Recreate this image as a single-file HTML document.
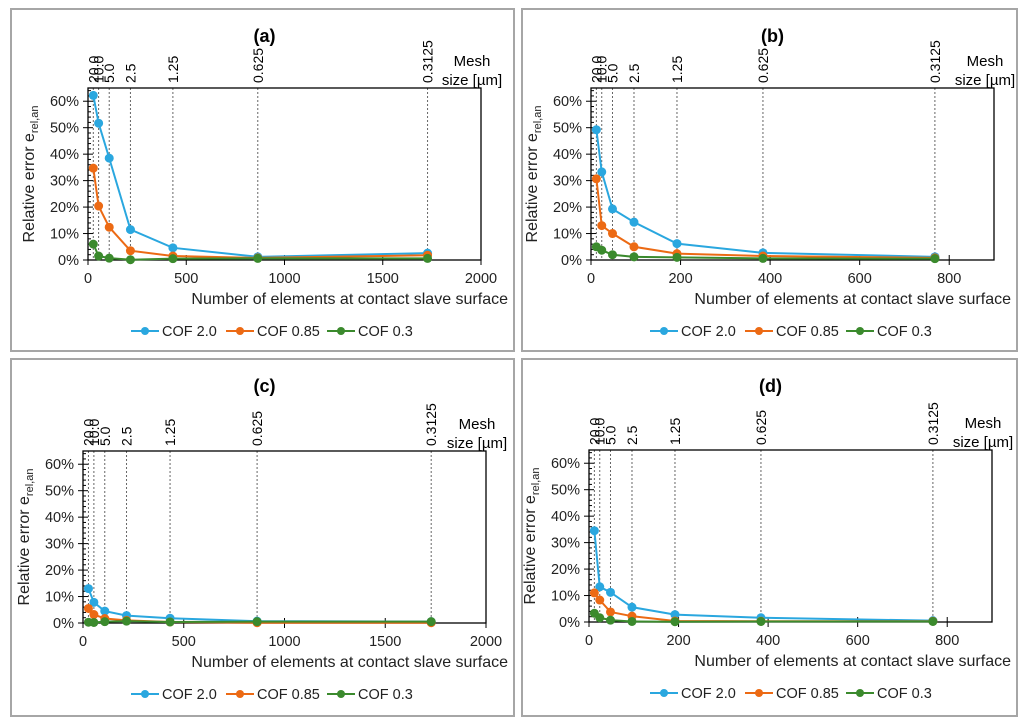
<!DOCTYPE html>
<html><head><meta charset="utf-8"><style>
body{margin:0;background:#fff;}
svg{display:block;font-family:"Liberation Sans","DejaVu Sans",sans-serif;}
</style></head><body>
<svg id="fig" width="1024" height="728" viewBox="0 0 1024 728" xmlns="http://www.w3.org/2000/svg"></svg>
<script>
const meshLabels = ["20.0","10.0","5.0","2.5","1.25","0.625","0.3125"];
const yTicks = [0,10,20,30,40,50,60];
const seriesNames = ["COF 2.0","COF 0.85","COF 0.3"];
const xA = [27,54,108,216,432,864,1728];
const xB = [12,24,48,96,192,384,768];
const xTicksA = [0,500,1000,1500,2000];
const xTicksB = [0,200,400,600,800];
const aBlue = [62.2,51.7,38.5,11.5,4.6,1.2,2.6];
const aOrange = [34.7,20.4,12.4,3.5,1.5,0.8,1.8];
const aGreen = [6,1.5,0.7,0.1,0.5,0.6,0.6];
const bBlue = [49.2,33.3,19.3,14.3,6.2,2.7,1.2];
const bOrange = [30.7,13,10,5,2.4,1.5,0.8];
const bGreen = [5,3.7,2,1.2,1,0.6,0.5];
const cBlue = [13,7.8,4.5,2.8,1.8,0.7,0.5];
const cOrange = [5.5,3.2,1.7,1.0,0.4,0.1,0.1];
const cGreen = [0.3,0.2,0.5,0.7,0.4,0.5,0.5];
const dBlue = [34.5,13.3,11.2,5.6,2.8,1.6,0.5];
const dOrange = [11,8.3,3.8,2.2,0.4,0.3,0.3];
const dGreen = [3.3,1.6,0.7,0.2,0.1,0.2,0.2];

const colors = ["#2aa7df","#ec6a14","#3b8a2d"];
const NS = "http://www.w3.org/2000/svg";
const svg = document.getElementById("fig");
function mk(tag, attrs, parent, text){
  const e = document.createElementNS(NS, tag);
  for (const k in attrs) e.setAttribute(k, attrs[k]);
  if (text !== undefined) e.textContent = text;
  (parent||svg).appendChild(e);
  return e;
}
function panel(id, bx, by, px0, px1, py0, xmax, xs, xTicks, data){
  const g = mk("g", {});
  
  
  const right = (id=='b'||id=='d');
  const frame = mk("rect", {x:bx, y:by, width:503-(right?8:0), height:(id=='a'||id=='b')?342:357, fill:"none", stroke:"#a6a6a6", "stroke-width":2}, g);
  
  
  const ymax = 65, yTop = py0 - 172;
  const sx = v => px0 + (v / xmax) * (px1 - px0);
  const sy = v => py0 - (v / ymax) * (py0 - yTop);
  const t = mk("text", {x:(px0+px1)/2 - 20, y:by+33, "font-size":18, "font-weight":"bold", "text-anchor":"middle"}, g, "(" + id + ")");
  
  
  xs.forEach((v,i)=>{
    const l = mk("line", {x1:sx(v), x2:sx(v), y1:yTop, y2:py0, stroke:"#666", "stroke-width":1, "stroke-dasharray":"2,2"}, g);
    
    
    const tx = mk("text", {x:0, y:0, "font-size":14, transform:`translate(${sx(v)+5},${yTop-5}) rotate(-90)`}, g, meshLabels[i]);
    
    
  });
  const m1 = mk("text", {x:px1-9, y:yTop-22, "font-size":15, "text-anchor":"middle"}, g, "Mesh");
  
  
  const m2 = mk("text", {x:px1-9, y:yTop-3, "font-size":15, "text-anchor":"middle"}, g, "size [µm]");
  
  
  const pa = mk("rect", {x:px0, y:yTop, width:px1-px0, height:py0-yTop, fill:"none", stroke:"#000", "stroke-width":1.3}, g);
  
  
  for (let v=0; v<=64; v+=2){
    const major = v%10===0;
    mk("line", {x1:major?px0-5:px0, x2:px0+(major?5:3), y1:sy(v), y2:sy(v), stroke:"#000", "stroke-width":1}, g);
  }
  yTicks.forEach(v=>{
    const tx = mk("text", {x:px0-9, y:sy(v)+5, "font-size":14.5, "text-anchor":"end", fill:"#222"}, g, v+"%");
    
    
  });
  xTicks.forEach(v=>{
    mk("line", {x1:sx(v), x2:sx(v), y1:py0-5, y2:py0+5, stroke:"#000", "stroke-width":1}, g);
    const tx = mk("text", {x:sx(v), y:py0+23, "font-size":14.5, "text-anchor":"middle", fill:"#222"}, g, v);
    
    
  });
  const xt = mk("text", {x:bx+497-(right?8:0), y:py0+44, "font-size":16, "text-anchor":"end", fill:"#222"}, g, "Number of elements at contact slave surface");
  
  
  const yt = mk("text", {x:0, y:0, "font-size":16, "text-anchor":"middle", fill:"#222", transform:`translate(${px0-54},${(yTop+py0)/2}) rotate(-90)`}, g);
  
  
  mk("tspan", {}, yt, "Relative error e");
  mk("tspan", {"font-size":11, dy:4}, yt, "rel,an");
  data.forEach((vals, si)=>{
    const pts = vals.map((v,i)=>sx(xs[i])+","+sy(v)).join(" ");
    const pl = mk("polyline", {points:pts, fill:"none", stroke:colors[si], "stroke-width":2}, g);
    
    
    vals.forEach((v,i)=>{
      const c = mk("circle", {cx:sx(xs[i]), cy:sy(v), r:4.5, fill:colors[si]}, g);
      
      
    });
  });
  const ly = py0 + 71;
  const lx0 = bx + 120 + (right?8:0);
  const offs = [0, 95, 196];
  seriesNames.forEach((n,i)=>{
    const x = lx0 + offs[i];
    const le = mk("g", {}, g);
    
    
    mk("line", {x1:x, x2:x+28, y1:ly, y2:ly, stroke:colors[i], "stroke-width":2}, le);
    mk("circle", {cx:x+14, cy:ly, r:4, fill:colors[i]}, le);
    mk("text", {x:x+31, y:ly+5, "font-size":14.5, fill:"#222"}, le, n);
  });
}
panel("a", 11, 9, 88, 481, 260, 2000, xA, xTicksA, [aBlue,aOrange,aGreen]);
panel("b", 522, 9, 591, 994, 260, 900, xB, xTicksB, [bBlue,bOrange,bGreen]);
panel("c", 11, 359, 83, 486, 623, 2000, xA, xTicksA, [cBlue,cOrange,cGreen]);
panel("d", 522, 359, 589, 992, 622, 900, xB, xTicksB, [dBlue,dOrange,dGreen]);
</script>
</body></html>
